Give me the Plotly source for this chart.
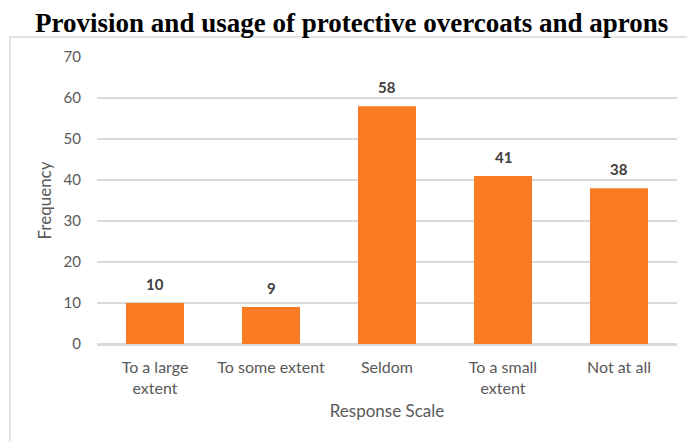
import plotly.graph_objects as go

categories = ["To a large<br>extent", "To some extent", "Seldom", "To a small<br>extent", "Not at all"]
frequency = [10, 9, 58, 41, 38]
y_ticks = [0, 10, 20, 30, 40, 50, 60, 70]

W, H = 687, 441
L, R, T, B = 97, 10, 57, 97
pw = W - L - R
ph = H - T - B

fig = go.Figure()
fig.add_trace(go.Bar(
    x=categories, y=frequency,
    marker=dict(color="#F97B24", line=dict(width=0)),
    width=0.5,
))

for c, v in zip(categories, frequency):
    fig.add_annotation(x=c, y=v, text="<b>%d</b>" % v, showarrow=False,
                       yanchor="bottom", yshift=8,
                       font=dict(family="Lato", size=15, color="#404040"))

# outer chart border
fig.add_shape(type="rect", xref="paper", yref="paper",
              x0=(10 - L) / pw, x1=(W + 5 - L) / pw,
              y0=-(H + 20 - (T + ph)) / ph, y1=(T + ph - 37) / ph,
              line=dict(color="#D9D9D9", width=1.5), fillcolor="rgba(0,0,0,0)", layer="below")

fig.update_layout(
    width=W, height=H,
    margin=dict(l=L, r=R, t=T, b=B),
    paper_bgcolor="white", plot_bgcolor="white",
    showlegend=False,
    title=dict(text="<b>Provision and usage of protective overcoats and aprons</b>",
               x=0.512, xanchor="center", xref="container",
               y=1 - 23 / H, yanchor="middle", yref="container",
               font=dict(family="Liberation Serif", size=27, color="black")),
    font=dict(family="Lato", color="#595959", size=15),
    xaxis=dict(
        title=dict(text="Response Scale", font=dict(size=17, color="#595959"), standoff=9),
        tickfont=dict(size=16, color="#595959"),
        showline=True, linecolor="#D9D9D9", linewidth=1.5,
        ticks="", showgrid=False, ticklabelstandoff=8,
    ),
    yaxis=dict(
        title=dict(text="Frequency", font=dict(size=17, color="#595959"), standoff=7),
        range=[0, 70], tickvals=y_ticks,
        tickfont=dict(size=15, color="#595959"),
        showgrid=True, gridcolor="#D9D9D9", gridwidth=1.5,
        zeroline=True, zerolinecolor="#D9D9D9", zerolinewidth=1.5,
        ticks="", ticklabelstandoff=15,
    ),
)

fig.write_html("out.html")
